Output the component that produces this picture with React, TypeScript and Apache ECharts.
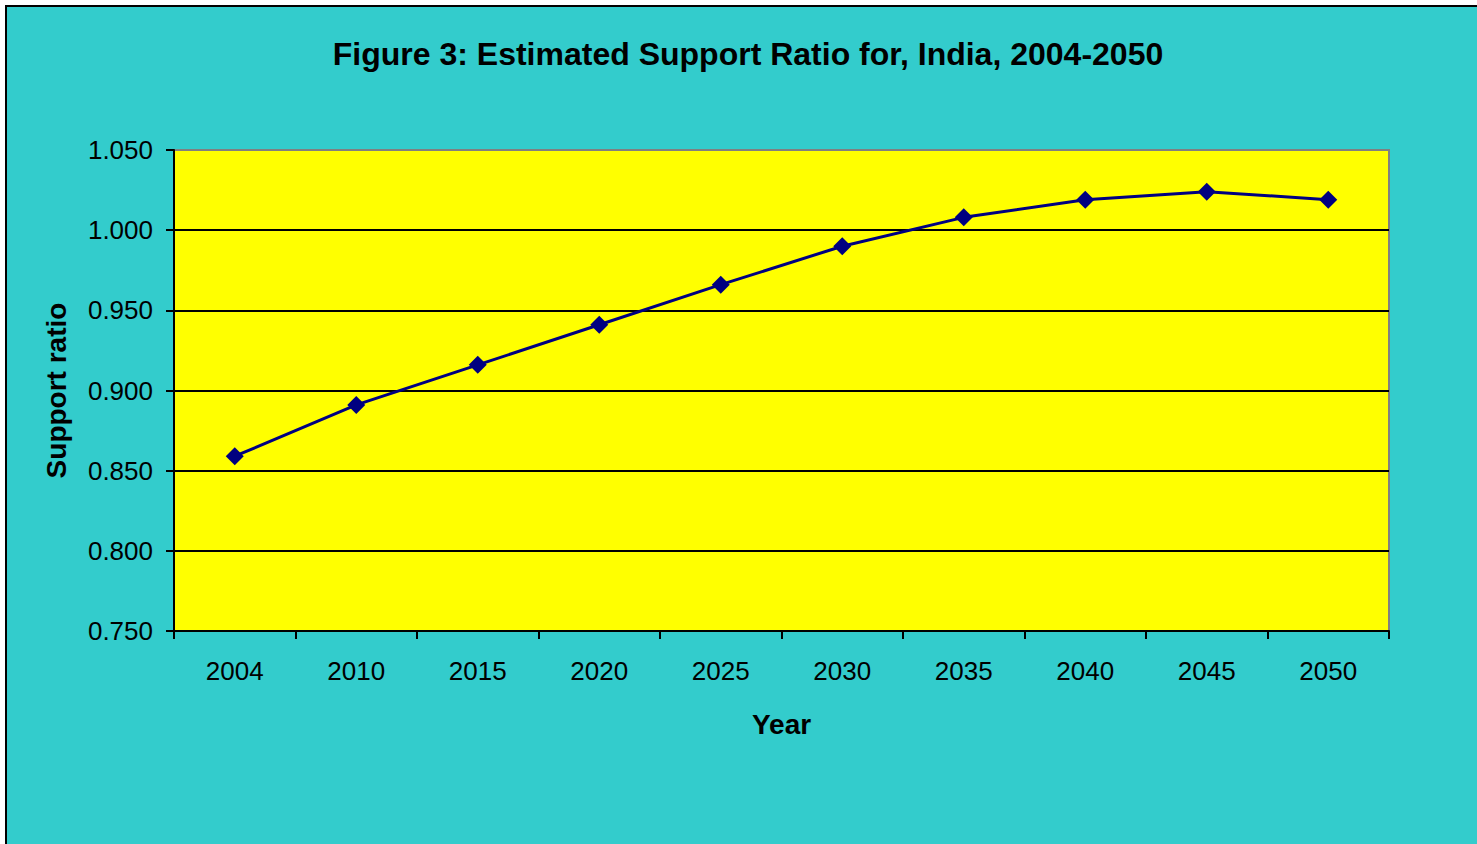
import React, { useEffect, useRef } from "react";
import * as echarts from "echarts";

const years = ["2004", "2010", "2015", "2020", "2025", "2030", "2035", "2040", "2045", "2050"];
const supportRatio = [0.859, 0.891, 0.916, 0.941, 0.966, 0.99, 1.008, 1.019, 1.024, 1.019];

const titleText = "Figure 3: Estimated Support Ratio for, India, 2004-2050";
const FONT = "'Liberation Sans', Arial, sans-serif";

export default function App() {
  const ref = useRef<HTMLDivElement>(null);

  useEffect(() => {
    if (!ref.current) return;
    const chart = echarts.init(ref.current, undefined, { renderer: "svg" });
    chart.setOption({
      animation: false,
      backgroundColor: "transparent",
      textStyle: { fontFamily: FONT },
      graphic: [
        {
          type: "text",
          x: 748,
          y: 54,
          style: {
            text: titleText,
            fontFamily: FONT,
            fontSize: 32,
            fontWeight: "bold",
            fill: "#000",
            textAlign: "center",
            textVerticalAlign: "middle",
          },
        },
      ],
      grid: {
        left: 174,
        top: 150,
        right: 88,
        bottom: 213,
        show: true,
        backgroundColor: "#FFFF00",
        borderColor: "#808080",
        borderWidth: 2,
      },
      xAxis: {
        type: "category",
        data: years,
        boundaryGap: true,
        name: "Year",
        nameLocation: "middle",
        nameGap: 79,
        nameTextStyle: { fontFamily: FONT, fontSize: 28, fontWeight: "bold", color: "#000" },
        axisLine: { lineStyle: { color: "#000", width: 2 } },
        axisTick: { show: true, interval: 0, length: 8, lineStyle: { color: "#000", width: 2 } },
        axisLabel: { fontFamily: FONT, fontSize: 26, color: "#000", margin: 27, interval: 0 },
        splitLine: { show: false },
      },
      yAxis: {
        type: "value",
        min: 0.75,
        max: 1.05,
        interval: 0.05,
        name: "Support ratio",
        nameLocation: "middle",
        nameGap: 104,
        nameRotate: 90,
        nameTextStyle: { fontFamily: FONT, fontSize: 28, fontWeight: "bold", color: "#000" },
        axisLine: { show: true, lineStyle: { color: "#000", width: 2 } },
        axisTick: { show: true, length: 8, lineStyle: { color: "#000", width: 2 } },
        axisLabel: {
          fontFamily: FONT,
          fontSize: 26,
          color: "#000",
          margin: 21,
          formatter: (v: number) => v.toFixed(3),
        },
        splitLine: {
          show: true,
          lineStyle: {
            color: ["#000", "#000", "#000", "#000", "#000", "#000", "#808080"],
            width: 2,
          },
        },
      },
      series: [
        {
          type: "line",
          data: supportRatio,
          symbol: "diamond",
          symbolSize: 18,
          lineStyle: { color: "#000080", width: 3 },
          itemStyle: { color: "#000080" },
        },
      ],
    });
    return () => chart.dispose();
  }, []);

  return (
    <div style={{ position: "absolute", left: 0, top: 0, width: 1477, height: 844, background: "#fff" }}>
      <div
        style={{
          position: "absolute",
          left: 5,
          top: 5,
          right: 0,
          bottom: 0,
          background: "#33CCCC",
          borderTop: "2px solid #000",
          borderLeft: "2px solid #000",
        }}
      />
      <div ref={ref} style={{ position: "absolute", left: 0, top: 0, width: 1477, height: 844 }} />
    </div>
  );
}
